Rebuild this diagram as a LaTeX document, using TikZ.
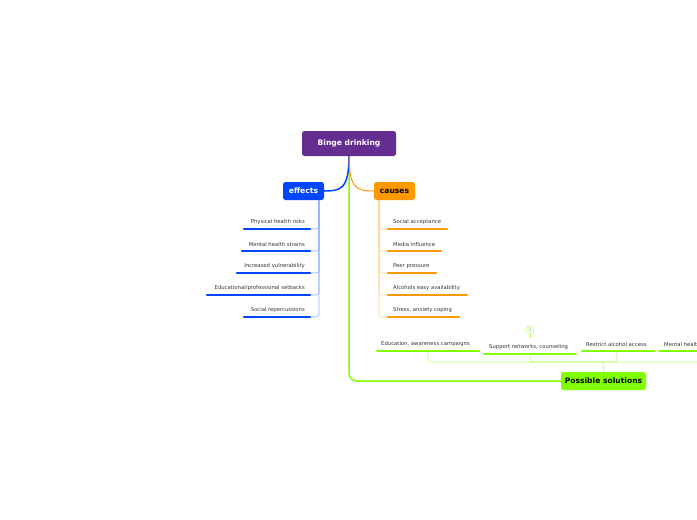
\documentclass[tikz,border=0pt]{standalone}
\usepackage{fontspec}
\setmainfont{DejaVu Sans}
\begin{document}
\begin{tikzpicture}[x=1pt,y=-1pt,
  box/.style={rounded corners=2.5pt,minimum height=18pt,font=\fontsize{7.6}{8}\selectfont\bfseries,inner sep=0pt},
  leaf/.style={font=\fontsize{5.3}{6}\selectfont,text=black!80,inner sep=0pt,anchor=south west},
  ul/.style={line width=2.2pt,line cap=round}]
\definecolor{pur}{HTML}{662D91}\definecolor{blu}{HTML}{0046FF}
\definecolor{org}{HTML}{FF9900}\definecolor{grn}{HTML}{80FF00}
\useasboundingbox (0,0) rectangle (697,520);
% main connectors
\draw[grn,line width=1.5pt,rounded corners=8pt] (349,156) -- (349,381) -- (561,381);
\draw[blu,line width=1.5pt] (349,156) .. controls (349,190) and (340,191) .. (324,191);
\draw[org,line width=1pt] (349,156) .. controls (349,190) and (358,191) .. (374,191);
\node[box,fill=pur,text=white,minimum width=94pt,minimum height=25pt] (root) at (349,143.5) {Binge drinking};
\node[box,fill=blu,text=white,minimum width=41pt] (eff) at (303.5,191) {effects};
\node[box,fill=org,text=black,minimum width=41pt] (cau) at (394.5,191) {causes};
\node[box,fill=grn,text=black,minimum width=85pt] (sol) at (603.5,381) {Possible solutions};
% effects
\foreach \y/\xa/\t in {229/244/Physical health risks,251/242/Mental health strains,273/237/Increased vulnerability,295/207/{Educational/professional setbacks},317/244/Social repercussions}{
  \draw[blu!45,line width=0.6pt,rounded corners=3pt] (319,200) -- (319,\y) -- (310,\y);
  \draw[ul,blu] (\xa,\y) -- (310,\y);
  \node[leaf,anchor=south east] at (305,\y-4) {\t};
}
% causes
\foreach \y/\xb/\t in {229/447/Social acceptance,251/441/Media influence,273/436/Peer pressure,295/467/Alcohols easy availability,317/459/{Stress, anxiety coping}}{
  \draw[org!45,line width=0.6pt,rounded corners=3pt] (379,200) -- (379,\y) -- (388,\y);
  \draw[ul,org] (388,\y) -- (\xb,\y);
  \node[leaf] at (393,\y-4) {\t};
}
% solutions
\draw[grn!60,line width=0.6pt,rounded corners=3pt] (428,351) -- (428,362) -- (697,362);
\draw[grn!60,line width=0.6pt,rounded corners=3pt] (530,354) -- (530,362) -- (617,362) -- (617,351);
\draw[grn!60,line width=0.6pt] (603,362) -- (sol.north);
\draw[ul,grn] (377,351) -- (479,351); \node[leaf] at (381,347) {Education, awareness campaigns};
\draw[ul,grn] (484,354) -- (576,354); \node[leaf] at (489,350) {Support networks, counseling};
\draw[ul,grn] (582,351) -- (654,351); \node[leaf] at (586,347) {Restrict alcohol access};
\draw[ul,grn] (659,351) -- (700,351); \node[leaf] at (664,347) {Mental health};
\node[draw=grn!70,circle,inner sep=0pt,minimum size=8pt,font=\fontsize{4.5}{5}\selectfont,text=grn!80!black] (bulb) at (530,330) {2};
\draw[grn!70,line width=0.8pt] (bulb.south) -- (530,338);
\end{tikzpicture}
\end{document}
